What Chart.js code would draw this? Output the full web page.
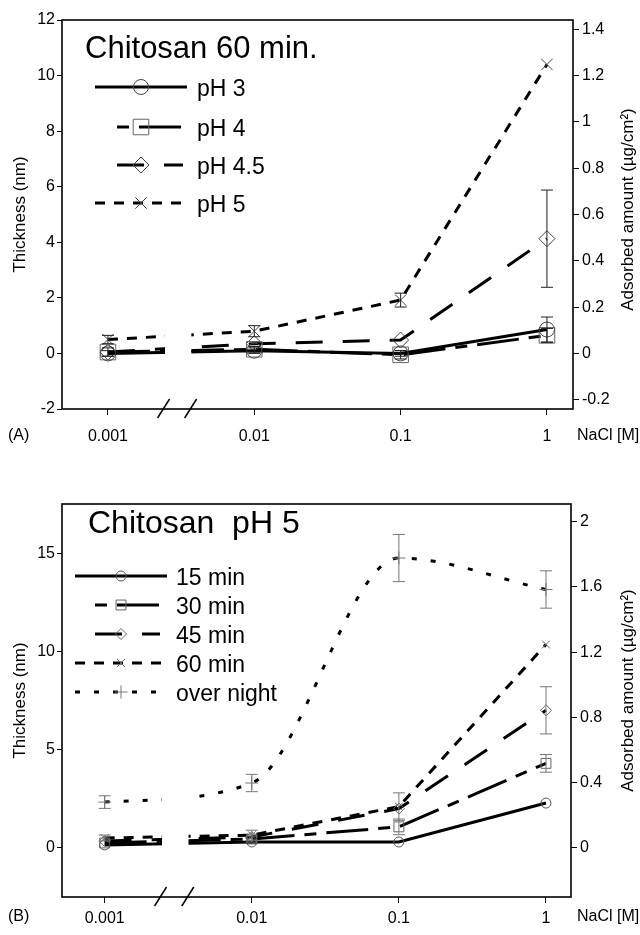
<!DOCTYPE html>
<html>
<head>
<meta charset="utf-8">
<script src="https://cdn.jsdelivr.net/npm/chart.js@4.4.1/dist/chart.umd.min.js"></script>
<style>
  html, body { margin: 0; padding: 0; background: #fff; }
  canvas { display: block; }
</style>
</head>
<body>
<canvas id="chartA" width="640" height="465"></canvas>
<canvas id="chartB" width="640" height="470"></canvas>
<script>
// NaCl concentration categories (x axis)
const naclLabels = ['0.001', '0.01', '0.1', '1'];

// Panel A: chitosan 60 min, thickness in nm
const thickPH3 = [0.0, 0.1, 0.0, 0.86];
const errPH3 = [0.1, 0.1, 0.1, 0.45];
const thickPH4 = [0.05, 0.15, -0.05, 0.65];
const errPH4 = [0.15, 0.1, 0.15, 0.25];
const thickPH45 = [0.05, 0.35, 0.48, 4.13];
const errPH45 = [null, null, null, 1.75];
const thickPH5 = [0.5, 0.8, 1.92, 10.4];
const errPH5 = [0.15, 0.2, 0.25, null];
const ticksA = [-2, 0, 2, 4, 6, 8, 10, 12];
const ticksA2 = [-0.2, 0, 0.2, 0.4, 0.6, 0.8, 1, 1.2, 1.4];

// Panel B: chitosan pH 5, thickness in nm
const thick15 = [0.15, 0.3, 0.3, 2.28];
const thick30 = [0.25, 0.45, 1.07, 4.3];
const err30 = [null, 0.15, 0.4, 0.45];
const thick45 = [0.35, 0.55, 2.0, 7.0];
const err45 = [null, null, null, 1.2];
const thick60 = [0.5, 0.65, 2.1, 10.35];
const err60 = [0.15, 0.25, 0.7, null];
const thickNight = [2.33, 3.3, 14.75, 13.15];
const errNight = [0.32, 0.44, 1.2, 0.95];
const ticksB = [0, 5, 10, 15];
const ticksB2 = [0, 0.4, 0.8, 1.2, 1.6, 2];

const FONT = '"Liberation Sans", Arial, sans-serif';
const GAP = [0.39, 0.57];        // axis break, in x units
const SLASHES = [0.38, 0.565];

function pts(vals) {
  return vals.map((v, i) => ({ x: i, y: v }));
}

function series(label, vals, errs, dash, style, radius, color, extra) {
  return Object.assign({
    label: label,
    data: pts(vals),
    errors: errs,
    borderColor: '#000',
    borderWidth: 3,
    borderDash: dash,
    pointStyle: style,
    pointRadius: radius,
    pointBorderColor: color,
    pointBorderWidth: 1,
    pointBackgroundColor: 'rgba(0,0,0,0)',
    tension: 0
  }, extra || {});
}

// hide the lines inside the axis break
const breakGap = {
  id: 'breakGap',
  beforeDatasetsDraw(chart) {
    const { ctx, scales } = chart;
    const g0 = scales.x.getPixelForValue(GAP[0]);
    const g1 = scales.x.getPixelForValue(GAP[1]);
    ctx.save();
    ctx.beginPath();
    ctx.rect(0, 0, g0, chart.height);
    ctx.rect(g1, 0, chart.width - g1, chart.height);
    ctx.clip();
  },
  afterDatasetsDraw(chart) {
    chart.ctx.restore();
  }
};

const errorBars = {
  id: 'errorBars',
  afterDatasetsDraw(chart, args, opts) {
    const { ctx, scales } = chart;
    ctx.save();
    ctx.strokeStyle = opts.color;
    ctx.lineWidth = 1;
    chart.data.datasets.forEach(ds => {
      (ds.errors || []).forEach((e, i) => {
        if (e == null) return;
        const v = ds.data[i].y;
        const x = scales.x.getPixelForValue(i);
        const y0 = scales.y.getPixelForValue(v - e);
        const y1 = scales.y.getPixelForValue(v + e);
        ctx.beginPath();
        ctx.moveTo(x, y0); ctx.lineTo(x, y1);
        ctx.moveTo(x - opts.cap, y0); ctx.lineTo(x + opts.cap, y0);
        ctx.moveTo(x - opts.cap, y1); ctx.lineTo(x + opts.cap, y1);
        ctx.stroke();
      });
    });
    ctx.restore();
  }
};

const decorations = {
  id: 'decorations',
  afterDraw(chart, args, o) {
    const { ctx, chartArea: a, scales } = chart;
    ctx.save();
    // frame
    ctx.strokeStyle = '#000';
    ctx.lineWidth = 1.6;
    ctx.strokeRect(a.left, a.top, a.right - a.left, a.bottom - a.top);
    // axis break slashes
    ctx.lineWidth = 1.5;
    SLASHES.forEach(s => {
      const x = scales.x.getPixelForValue(s);
      ctx.beginPath();
      ctx.moveTo(x - 6, a.bottom + 9);
      ctx.lineTo(x + 6, a.bottom - 10);
      ctx.stroke();
    });
    ctx.fillStyle = '#000';
    // panel letter and unit
    ctx.font = '16px ' + FONT;
    ctx.textBaseline = 'middle';
    ctx.textAlign = 'left';
    ctx.fillText(o.panel, 8, o.labelY);
    ctx.fillText('NaCl [M]', 577, o.labelY);
    // axis titles
    ctx.font = '17px ' + FONT;
    ctx.textAlign = 'center';
    const midY = (a.top + a.bottom) / 2;
    ctx.save();
    ctx.translate(20, midY + o.leftShift);
    ctx.rotate(-Math.PI / 2);
    ctx.fillText('Thickness (nm)', 0, 0);
    ctx.restore();
    ctx.save();
    ctx.translate(628, midY + o.rightShift);
    ctx.rotate(-Math.PI / 2);
    ctx.fillText('Adsorbed amount (\u00b5g/cm\u00b2)', 0, 0);
    ctx.restore();
    // title and legend
    ctx.textAlign = 'left';
    ctx.textBaseline = 'alphabetic';
    ctx.font = o.titleSize + 'px ' + FONT;
    ctx.fillText(o.title, o.titleX, o.titleY);
    ctx.font = o.legendSize + 'px ' + FONT;
    chart.data.datasets.forEach((ds, i) => {
      const y = o.rowY[i];
      const x0 = ds.legendFrom || o.lineX0;
      ctx.strokeStyle = '#000';
      ctx.lineWidth = ds.borderWidth;
      ctx.setLineDash(ds.borderDash || []);
      ctx.lineDashOffset = ds.legendDashOffset || 0;
      ctx.beginPath();
      ctx.moveTo(x0, y);
      ctx.lineTo(ds.legendTo || o.lineX1, y);
      ctx.stroke();
      ctx.setLineDash([]);
      ctx.lineDashOffset = 0;
      ctx.strokeStyle = ds.pointBorderColor;
      ctx.fillStyle = 'rgba(0,0,0,0)';
      ctx.lineWidth = 1;
      Chart.helpers.drawPoint(ctx, {
        pointStyle: ds.pointStyle, radius: ds.pointRadius, rotation: 0, borderWidth: 1
      }, o.markerX, y);
      ctx.fillStyle = '#000';
      ctx.fillText(ds.label, o.textX, y + 9);
    });
    ctx.restore();
  }
};

function makeChart(id, datasets, cfg) {
  const factor = cfg.factor;
  return new Chart(document.getElementById(id), {
    type: 'line',
    data: { datasets: datasets },
    plugins: [breakGap, errorBars, decorations],
    options: {
      responsive: false,
      animation: false,
      devicePixelRatio: 1,
      layout: { padding: { top: cfg.top, left: 0, right: 0, bottom: 0 } },
      plugins: {
        legend: { display: false },
        tooltip: { enabled: false },
        errorBars: { color: cfg.errColor, cap: 6 },
        decorations: cfg.deco
      },
      scales: {
        x: {
          type: 'linear',
          min: cfg.xMin,
          max: cfg.xMax,
          afterBuildTicks: axis => { axis.ticks = naclLabels.map((_, i) => ({ value: i })); },
          afterFit: s => { s.height = cfg.xHeight; },
          ticks: {
            callback: v => naclLabels[v],
            color: '#000',
            font: { family: FONT, size: 16 },
            padding: cfg.xPad,
            maxRotation: 0,
            autoSkip: false
          },
          grid: { drawOnChartArea: false, tickLength: 6, color: '#000', lineWidth: 1 },
          border: { display: false }
        },
        y: {
          position: 'left',
          min: cfg.yMin,
          max: cfg.yMax,
          afterBuildTicks: axis => { axis.ticks = cfg.ticks.map(v => ({ value: v })); },
          afterFit: s => { s.width = 62; },
          ticks: { color: '#000', font: { family: FONT, size: 16 }, padding: 2 },
          grid: { drawOnChartArea: false, tickLength: 5, color: '#000', lineWidth: 1 },
          border: { display: false }
        },
        y2: {
          position: 'right',
          min: cfg.yMin / factor,
          max: cfg.yMax / factor,
          afterBuildTicks: axis => { axis.ticks = cfg.ticks2.map(v => ({ value: v })); },
          afterFit: s => { s.width = cfg.rightWidth; },
          ticks: { color: '#000', font: { family: FONT, size: 16 }, padding: 3, callback: v => String(v) },
          grid: { drawOnChartArea: false, tickLength: 6, color: '#000', lineWidth: 1 },
          border: { display: false }
        }
      }
    }
  });
}

makeChart('chartA', [
  series('pH 3', thickPH3, errPH3, [], 'circle', 7.5, '#444'),
  series('pH 4', thickPH4, errPH4, [42, 10, 12, 10], 'rect', 11, '#666', { legendFrom: 117, legendTo: 183, legendDashOffset: 52 }),
  series('pH 4.5', thickPH45, errPH45, [27, 20], 'rectRot', 8, '#444', { legendFrom: 117, legendTo: 183 }),
  series('pH 5', thickPH5, errPH5, [10, 9], 'crossRot', 8, '#444')
], {
  factor: 8.33, yMin: -2, yMax: 12, ticks: ticksA, ticks2: ticksA2,
  xMin: -0.314, xMax: 3.178, top: 20, xHeight: 56, xPad: 12, rightWidth: 67,
  errColor: '#222',
  deco: {
    panel: '(A)', labelY: 436, leftShift: 0, rightShift: -5,
    title: 'Chitosan 60 min.', titleSize: 31, titleX: 85, titleY: 58,
    legendSize: 23, rowY: [87, 127, 165, 203], lineX0: 95, lineX1: 187, markerX: 141, textX: 197
  }
});

makeChart('chartB', [
  series('15 min', thick15, null, [], 'circle', 5, '#555'),
  series('30 min', thick30, err30, [42, 10, 12, 10], 'rect', 7, '#666', { legendFrom: 95, legendTo: 163, legendDashOffset: 52 }),
  series('45 min', thick45, err45, [27, 20], 'rectRot', 5.5, '#666', { legendFrom: 95, legendTo: 160 }),
  series('60 min', thick60, err60, [10, 9], 'crossRot', 5.5, '#666'),
  series('over night', thickNight, errNight, [5, 14], 'cross', 6.5, '#777', { cubicInterpolationMode: 'monotone' })
], {
  factor: 8.3, yMin: -2.5, yMax: 17.5, ticks: ticksB, ticks2: ticksB2,
  xMin: -0.29, xMax: 3.17, top: 39, xHeight: 38, xPad: 6, rightWidth: 69,
  errColor: '#777',
  deco: {
    panel: '(B)', labelY: 452, leftShift: 0, rightShift: -10,
    title: 'Chitosan  pH 5', titleSize: 32, titleX: 88, titleY: 68,
    legendSize: 23, rowY: [111, 140, 169, 198, 227], lineX0: 75, lineX1: 167, markerX: 121, textX: 176
  }
});
</script>
</body>
</html>
